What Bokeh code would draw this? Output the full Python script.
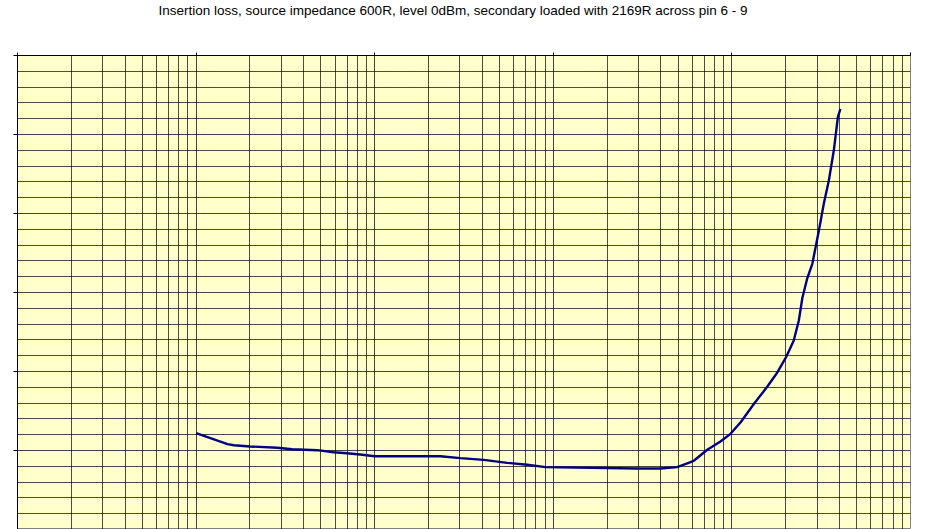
from bokeh.plotting import figure
from bokeh.models import LogAxis, LinearAxis, FixedTicker, Grid, Range1d
from bokeh.embed import file_html
from bokeh.resources import INLINE

TITLE = "Insertion loss, source impedance 600R, level 0dBm, secondary loaded with 2169R across pin 6 - 9"

freq_hz = [10, 15, 16.3, 20, 28.5, 34.5, 47.6, 59, 70, 83, 100, 233, 302, 408, 552, 714, 904,
           2950, 3980, 4940, 5870, 6120, 7280, 8630, 9820, 11200, 13300, 15800, 18000, 20200,
           22200, 23700, 24800, 26400, 28200, 30700, 32700, 34900, 37200, 39200, 40500]
loss_db = [1.22, 1.08, 1.067, 1.051, 1.034, 1.016, 1.004, 0.978, 0.966, 0.949, 0.928, 0.928,
           0.903, 0.882, 0.844, 0.819, 0.789, 0.772, 0.772, 0.789, 0.852, 0.87, 1.01, 1.114,
           1.211, 1.358, 1.591, 1.81, 1.991, 2.19, 2.392, 2.646, 2.93, 3.177, 3.363, 3.785,
           4.123, 4.418, 4.797, 5.219, 5.325]

y_major = [0, 1, 2, 3, 4, 5, 6]
y_minor = [i * 0.2 for i in range(31)]
decades = [1, 10, 100, 1000, 10000, 100000]
x_grid = [k * d for d in decades[:-1] for k in range(1, 10)] + [100000]

p = figure(width=917, height=529, x_axis_type="log",
           x_range=Range1d(1, 100000), y_range=Range1d(0, 6),
           x_axis_location=None, y_axis_location=None,
           output_backend="svg", toolbar_location=None,
           min_border_left=17, min_border_right=7, min_border_top=55, min_border_bottom=0,
           title=TITLE + "\n \n ")
p.title.align = "left"
p.title.offset = 141
p.title.standoff = 0
p.title.vertical_align = "bottom"
p.title.text_line_height = 1.15
p.title.text_font = "Liberation Sans"
p.title.text_font_size = "13.5px"
p.title.text_font_style = "normal"
p.title.text_color = "#000000"

p.background_fill_color = "#FFFFCC"
p.border_fill_color = "white"
p.outline_line_color = "#808080"

gx = Grid(dimension=0, ticker=FixedTicker(ticks=x_grid), grid_line_color="black", grid_line_alpha=0.7)
gy = Grid(dimension=1, ticker=FixedTicker(ticks=y_minor), grid_line_color="black", grid_line_alpha=0.7)
p.add_layout(gx)
p.add_layout(gy)

top = LogAxis(ticker=FixedTicker(ticks=decades), major_label_text_font_size="1px",
              major_label_text_alpha=0, major_label_standoff=0,
              major_tick_out=3, major_tick_in=0, minor_tick_out=0, minor_tick_in=0,
              axis_line_color="black", major_tick_line_color="black")
p.add_layout(top, "above")
left = LinearAxis(ticker=FixedTicker(ticks=y_major), major_label_text_font_size="1px",
                  major_label_text_alpha=0, major_label_standoff=0,
                  major_tick_out=4, major_tick_in=0, minor_tick_out=0, minor_tick_in=0,
                  axis_line_color="black", major_tick_line_color="black")
p.add_layout(left, "left")

p.line(freq_hz, loss_db, line_color="#000080", line_width=2.4)

open("out.html", "w").write(file_html(p, INLINE))
